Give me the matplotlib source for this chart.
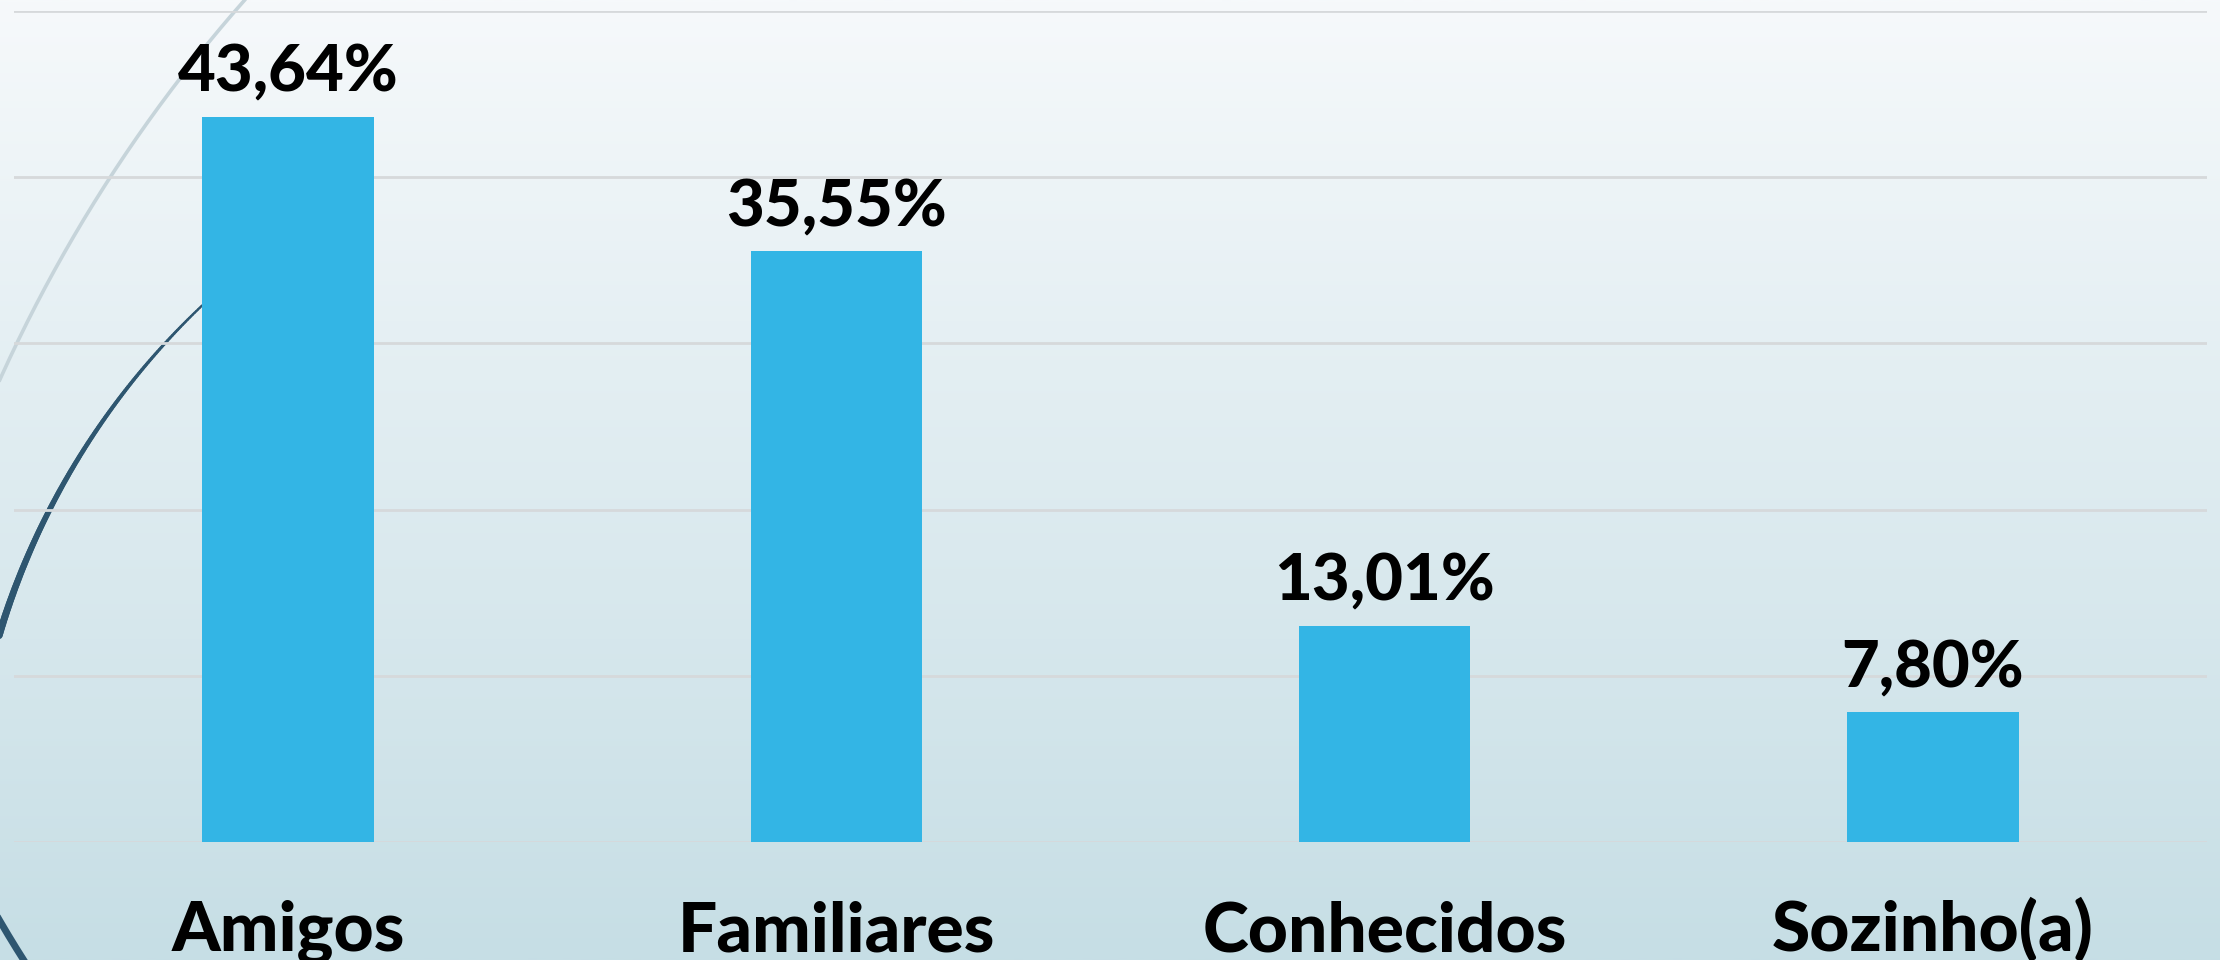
import numpy as np
import matplotlib
matplotlib.use("Agg")
import matplotlib.pyplot as plt
from matplotlib.collections import LineCollection

categories = ["Amigos", "Familiares", "Conhecidos", "Sozinho(a)"]
values = [43.64, 35.55, 13.01, 7.80]
yticks = [0, 10, 20, 30, 40, 50]

W, H, DPI = 2220, 960, 100
fig = plt.figure(figsize=(W / DPI, H / DPI), dpi=DPI)

# background gradient + decorative arcs (pixel coordinates, y downward)
bg = fig.add_axes([0, 0, 1, 1], zorder=0)
bg.axis("off")
top = np.array([246, 249, 251]) / 255
bot = np.array([198, 222, 229]) / 255
t = np.linspace(0, 1, 256)[:, None]
grad = (top[None, :] * (1 - t) + bot[None, :] * t)[:, None, :]
bg.imshow(grad, extent=[0, W, H, 0], aspect="auto", interpolation="bilinear", zorder=0)
bg.set_xlim(0, W)
bg.set_ylim(H, 0)

def arc_pts(cx, cy, r, a0, a1, n=300):
    a = np.radians(np.linspace(a0, a1, n))
    return cx + r * np.cos(a), cy + r * np.sin(a)

# light arc
x, y = arc_pts(1377, 999, 1510, 232, 195)
bg.plot(x, y, color="#c6d4da", lw=2.6, solid_capstyle="butt", zorder=2)

# dark tapered arc
x, y = arc_pts(722, 853, 755, 226.6, 190, 200)
pts = np.column_stack([x, y]).reshape(-1, 1, 2)
segs = np.concatenate([pts[:-1], pts[1:]], axis=1)
lws = np.linspace(1.6, 6.0, len(segs))
bg.add_collection(LineCollection(segs, linewidths=lws, colors="#2e5670",
                                 capstyle="round", zorder=2))

# dark thick arc bottom-left
x, y = arc_pts(900, 400, 1040, 145, 160)
bg.plot(x, y, color="#2e5670", lw=5, zorder=2)

# chart axes
ax = fig.add_axes([14 / W, 1 - 842 / H, (2207 - 14) / W, (842 - 11) / H], zorder=1)
ax.patch.set_alpha(0)
xpos = np.arange(len(categories))
ax.bar(xpos, values, width=0.313, color="#33b5e5", zorder=3)
ax.set_xlim(-0.5, len(categories) - 0.5)
ax.set_ylim(yticks[0], yticks[-1])
ax.set_yticks(yticks)
ax.yaxis.grid(True, color="#d6d9db", lw=2.0, zorder=1)
ax.set_axisbelow(True)
for s in ax.spines.values():
    s.set_visible(False)
ax.tick_params(left=False, bottom=False, labelleft=False, labelbottom=False)

for i, v in enumerate(values):
    ax.annotate(f"{v:.2f}%".replace(".", ","), xy=(i, v), xytext=(0, 18),
                textcoords="offset points", ha="center", va="baseline",
                fontsize=47, fontweight="black", family=["Lato", "DejaVu Sans"],
                color="black", zorder=5)
    ax.annotate(categories[i], xy=(i, 0), xytext=(0, -78.5),
                textcoords="offset points", ha="center", va="baseline",
                fontsize=50, fontweight="black", family=["Lato", "DejaVu Sans"],
                color="black", annotation_clip=False)

fig.savefig("out.png", dpi=DPI)
